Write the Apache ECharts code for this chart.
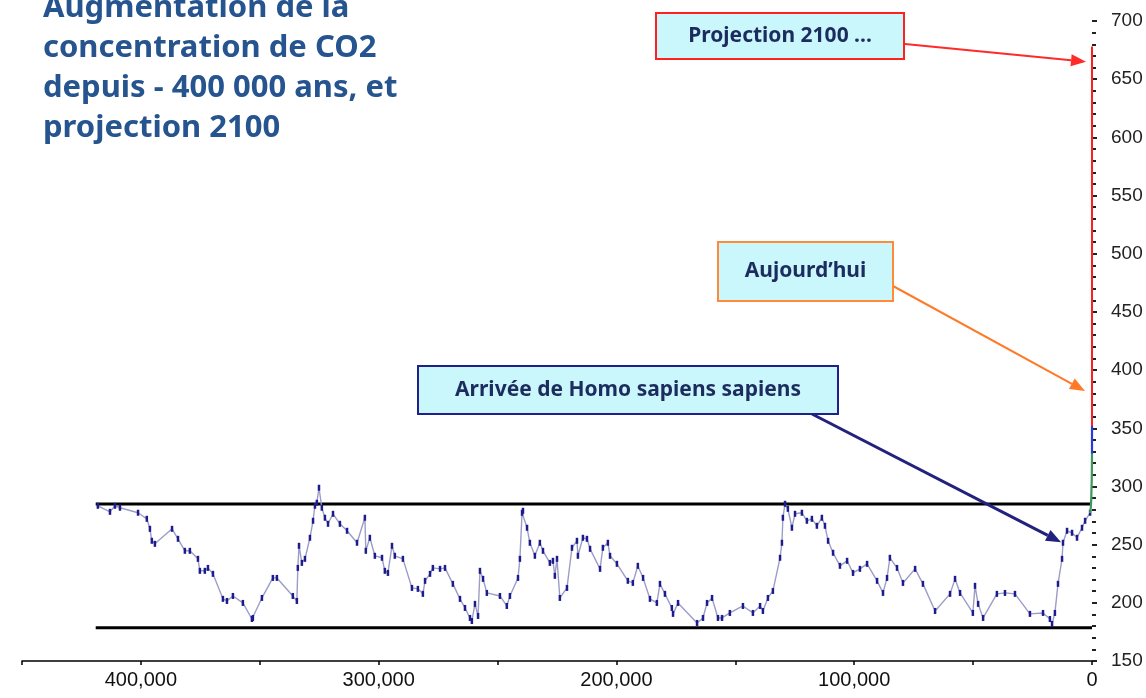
<!DOCTYPE html>
<html><head><meta charset="utf-8">
<script src="https://cdn.jsdelivr.net/npm/echarts@6/dist/echarts.min.js"></script>
<style>html,body{margin:0;padding:0;background:#fff}#c{width:1146px;height:698px}</style>
</head><body><div id="c"></div>
<script>
// ---------- data ----------
const titleText = 'Augmentation de la\nconcentration de CO2\ndepuis - 400 000 ans, et\nprojection 2100';

// Vostok record: thousands of years before present, CO2 (ppmv)
const vostokKyr = [418.1,413.0,410.9,408.8,401.2,397.5,396.2,395.4,394.1,386.9,384.4,381.5,379.4,376.0,375.2,373.1,371.8,369.7,365.5,363.8,361.3,357.1,353.3,352.9,349.1,344.5,342.8,336.1,334.4,334.0,333.5,332.3,331.0,328.9,327.6,326.8,326.0,325.1,323.9,322.6,321.3,319.2,316.3,313.3,309.1,305.8,305.4,303.7,301.6,298.6,297.4,296.1,294.4,293.2,289.8,286.0,283.5,281.4,280.5,278.4,277.2,274.2,272.1,268.8,265.8,263.7,261.6,260.8,259.5,258.2,257.4,256.1,254.5,249.0,246.1,244.8,241.4,240.6,239.7,239.3,237.6,236.4,234.3,232.2,230.9,228.0,226.7,225.9,225.0,223.8,220.8,218.7,216.6,216.2,214.1,212.4,211.1,206.9,205.7,203.6,202.7,199.8,195.2,193.1,191.0,188.8,185.9,183.0,181.7,179.6,176.7,176.2,174.1,166.1,163.6,161.9,159.8,157.3,155.6,152.3,146.8,142.6,139.6,138.4,136.3,134.2,131.2,130.4,130.0,129.1,127.9,126.2,124.9,122.0,119.9,117.8,115.7,113.6,112.3,111.0,108.9,106.0,103.0,100.5,97.6,94.6,90.4,87.9,86.2,85.0,82.0,79.5,74.4,71.1,66.0,59.7,57.6,55.5,50.1,49.2,47.9,45.8,40.0,36.6,32.4,26.1,20.6,17.7,16.8,15.6,14.3,12.6,12.2,10.5,8.4,6.3,4.2,2.9,0.8];
const vostokCO2 = [283.4,278.2,283.4,281.7,277.4,272.2,263.6,253.3,250.7,263.6,255.0,244.7,244.7,237.8,227.5,227.5,230.0,224.9,203.4,201.6,205.9,199.9,186.1,187.0,204.2,221.4,221.4,205.9,201.6,230.0,249.0,234.3,237.8,255.9,270.5,283.4,286.0,298.9,281.7,273.1,267.9,276.5,267.9,261.9,251.6,273.1,244.7,255.9,240.4,238.7,227.5,225.7,249.0,240.4,237.8,212.8,212.0,207.7,218.9,224.9,230.0,229.2,230.0,216.3,203.4,195.6,187.0,184.4,199.1,188.7,227.5,220.6,208.5,205.9,197.3,205.9,221.4,237.8,277.4,279.1,264.5,251.6,240.4,251.6,244.7,234.3,236.1,223.2,237.8,204.2,212.8,247.3,253.3,240.4,255.9,255.0,246.4,229.2,247.3,251.6,240.4,233.5,218.9,217.1,231.8,221.4,203.4,199.9,216.3,207.7,195.6,190.5,199.9,182.7,187.0,199.9,204.2,187.0,187.0,191.3,197.3,191.3,197.3,193.0,204.2,210.2,238.7,251.6,273.1,285.1,280.8,264.5,276.5,277.4,270.5,272.2,266.2,273.1,266.2,253.3,243.0,231.8,236.1,225.7,229.2,233.5,218.9,208.5,221.4,238.7,230.0,217.1,229.2,216.3,193.0,207.7,220.6,208.5,191.3,214.6,199.1,187.0,207.7,208.5,207.7,190.5,191.3,186.1,181.8,191.3,216.3,237.8,251.6,261.9,260.2,255.9,264.5,270.5,277.4];

// recent rise (green), today (blue), projection 2100 (red)
const recentKyr = [0.8, 0.5, 0.3, 0.2, 0.1, 0];
const recentCO2 = [277, 282, 290, 300, 305, 328];
const todayKyr = [0, 0];
const todayCO2 = [328, 352];
const projKyr = [0, 0];
const projCO2 = [352, 678];

// glacial/interglacial bounds
const boundKyr = [419, 0];
const upperBound = [285, 285];
const lowerBound = [178.5, 178.5];

// annotations: text and the data point each arrow points at [kyr, ppmv]
const noteTexts = ['Projection 2100 ...', 'Aujourd\u2019hui', 'Arriv\u00e9e de Homo sapiens sapiens'];
const noteTargets = [[0, 665], [0, 382], [13, 252]];

// ---------- chart ----------
const pairs = (xs, ys) => xs.map((x, i) => [x, ys[i]]);
const chart = echarts.init(document.getElementById('c'));

const option = {
  backgroundColor: '#ffffff',
  animation: false,
  title: {
    text: titleText, left: 38, top: -17,
    textStyle: { fontFamily: 'Noto Sans', fontWeight: 'bold', fontSize: 31, lineHeight: 40, color: '#26548f' }
  },
  grid: { left: 22, right: 54, top: 21, bottom: 37 },
  xAxis: {
    type: 'value', inverse: true, min: 0, max: 450, interval: 50,
    axisLine: { lineStyle: { color: '#000', width: 1.5 } },
    axisTick: { length: 4, lineStyle: { color: '#000', width: 1.5 } },
    axisLabel: {
      margin: 9, fontFamily: 'Liberation Sans Narrow, Liberation Sans', fontSize: 20, color: '#111',
      formatter: v => (v % 100 === 0 ? (v * 1000).toLocaleString('en-US') : '')
    },
    splitLine: { show: false }
  },
  yAxis: {
    type: 'value', position: 'right', offset: 10, min: 150, max: 700, interval: 50,
    axisLine: { show: false },
    axisTick: { show: true, length: 5, lineStyle: { color: '#222', width: 2 } },
    minorTick: { show: true, splitNumber: 5, length: 4, lineStyle: { color: '#222', width: 2 } },
    axisLabel: { margin: 9, fontFamily: 'Liberation Sans', fontSize: 19, color: '#222' },
    splitLine: { show: false }
  },
  series: [
    { type: 'line', data: pairs(boundKyr, upperBound), symbol: 'none', lineStyle: { color: '#000', width: 3 }, z: 1 },
    { type: 'line', data: pairs(boundKyr, lowerBound), symbol: 'none', lineStyle: { color: '#000', width: 3 }, z: 1 },
    { type: 'line', data: pairs(vostokKyr, vostokCO2), showSymbol: true, symbol: 'rect', symbolSize: [2.5, 6],
      itemStyle: { color: '#1c1c8c' }, lineStyle: { color: '#9c9cc8', width: 1.4 }, z: 2 },
    { type: 'line', data: pairs(recentKyr, recentCO2), symbol: 'none', lineStyle: { color: '#3a9a5c', width: 2.2 }, z: 3 },
    { type: 'line', data: pairs(todayKyr, todayCO2), symbol: 'none', lineStyle: { color: '#2a3ad6', width: 2.2 }, z: 3 },
    { type: 'line', data: pairs(projKyr, projCO2), symbol: 'none', lineStyle: { color: '#ff1f1f', width: 2 }, z: 3 }
  ]
};
chart.setOption(option);

// annotation boxes (layout) and arrows pointing at data coordinates
const boxes = [
  { x: 656, y: 13, w: 248, h: 46, border: '#ff2020', arrow: '#ff2a2a', from: [905, 44], lw: 2, dx: -6, dy: 0 },
  { x: 718, y: 242, w: 175, h: 59, border: '#ff8a3a', arrow: '#ff7a28', from: [893, 286], lw: 2, dx: -7, dy: 0 },
  { x: 418, y: 366, w: 420, h: 48, border: '#20208a', arrow: '#22227e', from: [812, 414], lw: 3, dx: 0, dy: 0 }
];
const g = [];
boxes.forEach((b, i) => {
  g.push({ type: 'rect', shape: { x: b.x, y: b.y, width: b.w, height: b.h }, z: 10,
    style: { fill: '#c9f7fb', stroke: b.border, lineWidth: 2 } });
  g.push({ type: 'text', x: b.x + b.w / 2, y: b.y + b.h / 2, z: 11,
    style: { text: noteTexts[i], fill: '#1d2c5e', font: 'bold 21px "Noto Sans"', align: 'center', verticalAlign: 'middle' } });
  const p = chart.convertToPixel({ gridIndex: 0 }, noteTargets[i]);
  const tx = p[0] + b.dx, ty = p[1] + b.dy;
  const fx = b.from[0], fy = b.from[1];
  const ang = Math.atan2(ty - fy, tx - fx);
  const L = 15, W = 6;
  const bx = tx - L * Math.cos(ang), by = ty - L * Math.sin(ang);
  g.push({ type: 'line', z: 9, shape: { x1: fx, y1: fy, x2: bx, y2: by }, style: { stroke: b.arrow, lineWidth: b.lw } });
  g.push({ type: 'polygon', z: 9, shape: { points: [[tx, ty],
    [bx + W * Math.sin(ang), by - W * Math.cos(ang)], [bx - W * Math.sin(ang), by + W * Math.cos(ang)]] },
    style: { fill: b.arrow } });
});
chart.setOption({ graphic: g });
</script>
</body></html>
